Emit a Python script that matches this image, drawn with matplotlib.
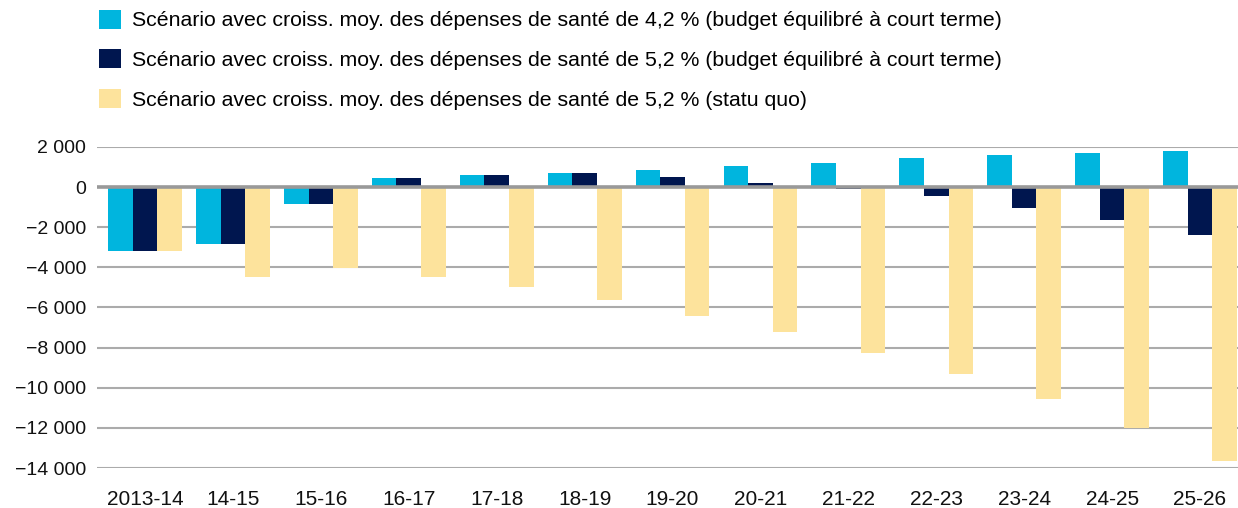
import matplotlib
matplotlib.use("Agg")
import matplotlib.pyplot as plt
import numpy as np
from matplotlib.patches import Patch
from matplotlib.ticker import FuncFormatter

categories = ["2013-14", "14-15", "15-16", "16-17", "17-18", "18-19", "19-20",
              "20-21", "21-22", "22-23", "23-24", "24-25", "25-26"]
s42_equil = [-3170, -2820, -830, 450, 600, 700, 850, 1050, 1200, 1440, 1590, 1690, 1790]
s52_equil = [-3170, -2820, -830, 450, 600, 700, 500, 200, -100, -450, -1030, -1630, -2370]
s52_statu = [-3170, -4460, -4010, -4460, -4960, -5610, -6400, -7245, -8290, -9330, -10570, -12030, -13650]
labels = [
    "Scénario avec croiss. moy. des dépenses de santé de 4,2 % (budget équilibré à court terme)",
    "Scénario avec croiss. moy. des dépenses de santé de 5,2 % (budget équilibré à court terme)",
    "Scénario avec croiss. moy. des dépenses de santé de 5,2 % (statu quo)",
]
colors = ["#00B5DE", "#00164F", "#FDE39C"]

plt.rcParams['font.family'] = ['Liberation Sans', 'DejaVu Sans']

fig = plt.figure(figsize=(12.38, 5.08), dpi=100)
ax = fig.add_axes([97 / 1238, 0.0787, 1 - 97 / 1238, 0.632])

x = np.arange(len(categories))
w = 0.28
for i, (vals, c) in enumerate(zip([s42_equil, s52_equil, s52_statu], colors)):
    ax.bar(x + (i - 1) * w, vals, width=w, color=c, zorder=3, linewidth=0)

ax.set_xlim(-0.546, 12.432)
ax.set_ylim(-14000, 2000)
ax.set_yticks(np.arange(-14000, 2001, 2000))

def fmt(v, pos):
    v = int(round(v))
    s = f"{abs(v):,}".replace(",", " ")
    return ("\u2212" if v < 0 else "") + s
ax.yaxis.set_major_formatter(FuncFormatter(fmt))
ax.set_xticks(x)
ax.set_xticklabels(categories)
ax.tick_params(axis='both', length=0, colors='#111111')
ax.tick_params(axis='y', pad=8, labelsize=14)
ax.tick_params(axis='x', pad=16, labelsize=15)
ax.grid(axis='y', color='#ABABAB', linewidth=1.5, zorder=0)
ax.axhline(0, color='#999999', linewidth=2.6, zorder=4)
for s in ax.spines.values():
    s.set_visible(False)

handles = [Patch(facecolor=c, edgecolor='none') for c in colors]
fig.legend(handles, labels, loc='upper left', bbox_to_anchor=(0.0725, 1.0),
           frameon=False, fontsize=15.3, handlelength=1.0, handleheight=1.0,
           handletextpad=0.55, labelspacing=0.9, borderaxespad=0.25,
           borderpad=0.2)

fig.savefig("out.png", dpi=100)
